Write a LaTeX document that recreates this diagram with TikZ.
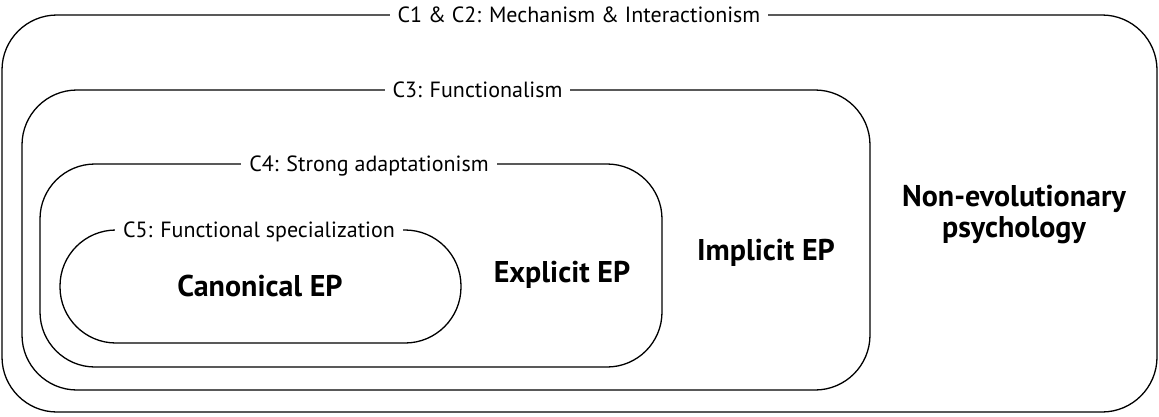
\documentclass[tikz,border=0pt]{standalone}
\usepackage{fontspec}
\setmainfont{PT Sans}
\begin{document}
\begin{tikzpicture}[x=1pt,y=-1pt,
  box/.style={draw, line width=1.3pt, rounded corners=55pt, inner sep=0pt},
  lab/.style={fill=white, inner xsep=8pt, inner ysep=2pt, font=\fontsize{22}{26}\selectfont, anchor=base},
  big/.style={font=\bfseries\fontsize{30}{31}\selectfont, align=center}]
\useasboundingbox (0,0) rectangle (1159,416);
% boxes
\node[box, minimum width=1155pt, minimum height=397pt] (b1) at (579.5,213.5) {};
\node[box, minimum width=848pt, minimum height=300pt] (b2) at (446,240) {};
\node[box, minimum width=622pt, minimum height=203pt] (b3) at (351,265.5) {};
\node[box, rounded corners=56pt, minimum width=401pt, minimum height=113pt] (b4) at (260.5,286.5) {};
% labels on the top edges
\node[lab] (l1) at (579,22.5) {C1 \& C2: Mechanism \& Interactionism};
\node[lab] (l2) at (477.5,97.5) {C3: Functionalism};
\node[lab] (l3) at (369,171.5) {C4: Strong adaptationism};
\node[lab] (l4) at (259,237.5) {C5: Functional specialization};
% region names
\node[big, anchor=base] (canon) at (260,296) {Canonical EP};
\node[big, anchor=base] (expl) at (562,282) {Explicit EP};
\node[big, anchor=base] (impl) at (766,260) {Implicit EP};
\node[big] (nonevo) at (1014,215) {Non-evolutionary\\psychology};
\end{tikzpicture}
\end{document}
